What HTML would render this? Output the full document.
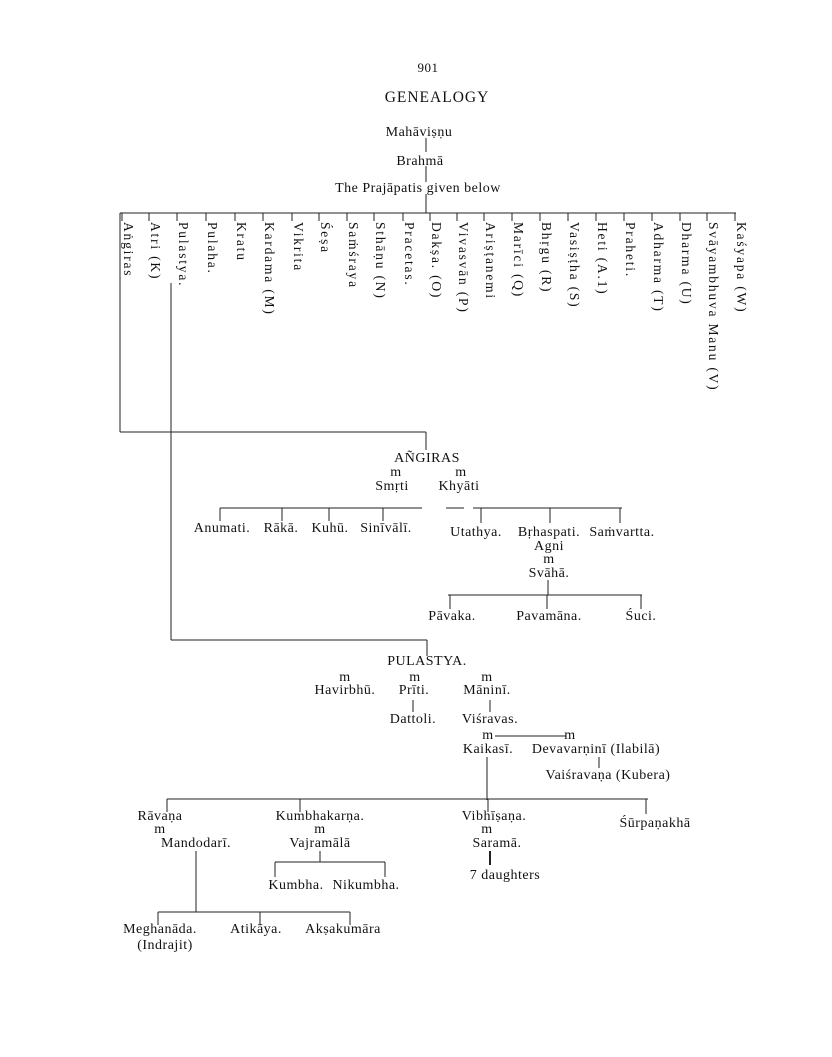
<!DOCTYPE html>
<html><head><meta charset="utf-8"><style>
html,body{margin:0;padding:0;background:#fff;}
svg{display:block}
text{font-family:"Liberation Serif",serif;font-size:14px;letter-spacing:0.5px;fill:#111;}
.c{text-anchor:middle}
.r{font-size:13.5px;letter-spacing:1.8px}
</style></head><body>
<svg width="832" height="1057" viewBox="0 0 832 1057" xmlns="http://www.w3.org/2000/svg">
<g stroke="#222" stroke-width="1" fill="none">
<line x1="426" y1="138" x2="426" y2="152"/>
<line x1="426" y1="166" x2="426" y2="182"/>
<line x1="426" y1="194" x2="426" y2="213"/>
<line x1="120" y1="213" x2="736" y2="213"/>
<line x1="120" y1="213" x2="120" y2="432"/>
<line x1="120" y1="432" x2="426" y2="432"/>
<line x1="426" y1="432" x2="426" y2="450"/>
<line x1="171" y1="283" x2="171" y2="640"/>
<line x1="171" y1="640" x2="427" y2="640"/>
<line x1="427" y1="640" x2="427" y2="656"/>
<line x1="220" y1="508" x2="422" y2="508"/>
<line x1="220" y1="508" x2="220" y2="521"/>
<line x1="282" y1="508" x2="282" y2="521"/>
<line x1="329" y1="508" x2="329" y2="521"/>
<line x1="383" y1="508" x2="383" y2="521"/>
<line x1="446" y1="508" x2="464" y2="508"/>
<line x1="473" y1="508" x2="622" y2="508"/>
<line x1="481" y1="508" x2="481" y2="523"/>
<line x1="550" y1="508" x2="550" y2="523"/>
<line x1="620" y1="508" x2="620" y2="523"/>
<line x1="548" y1="580" x2="548" y2="595"/>
<line x1="448" y1="595" x2="642" y2="595"/>
<line x1="450" y1="595" x2="450" y2="609"/>
<line x1="547" y1="595" x2="547" y2="609"/>
<line x1="641" y1="595" x2="641" y2="609"/>
<line x1="413" y1="700" x2="413" y2="712"/>
<line x1="490" y1="700" x2="490" y2="712"/>
<line x1="495" y1="736" x2="566" y2="736"/>
<line x1="599" y1="757" x2="599" y2="768"/>
<line x1="487" y1="757" x2="487" y2="800"/>
<line x1="167" y1="799" x2="648" y2="799"/>
<line x1="167" y1="799" x2="167" y2="812"/>
<line x1="300" y1="799" x2="300" y2="812"/>
<line x1="488" y1="799" x2="488" y2="812"/>
<line x1="646" y1="799" x2="646" y2="814"/>
<line x1="320" y1="851" x2="320" y2="862"/>
<line x1="275" y1="862" x2="385" y2="862"/>
<line x1="275" y1="862" x2="275" y2="877"/>
<line x1="385" y1="862" x2="385" y2="877"/>
<line x1="490" y1="851" x2="490" y2="865" stroke-width="2"/>
<line x1="196" y1="851" x2="196" y2="912"/>
<line x1="158" y1="912" x2="350" y2="912"/>
<line x1="158" y1="912" x2="158" y2="925"/>
<line x1="260" y1="912" x2="260" y2="925"/>
<line x1="350" y1="912" x2="350" y2="925"/>
<path d="M122 213v8M149 213v8M177 213v8M206 213v8M235 213v8M263 213v8M292 213v8M319 213v8M347 213v8M374 213v8M403 213v8M430 213v8M457 213v8M484 213v8M512 213v8M540 213v8M568 213v8M596 213v8M624 213v8M652 213v8M680 213v8M707 213v8M735 213v8"/>
</g>
<text class="c" x="428" y="72" style="font-size:13px">901</text>
<text class="c" x="437" y="102" style="font-size:15.5px;letter-spacing:1px">GENEALOGY</text>
<text class="c" x="419" y="136">Mahāviṣṇu</text>
<text class="c" x="420" y="165">Brahmā</text>
<text class="c" x="418" y="192">The Prajāpatis given below</text>
<g class="r">
<text class="r" transform="translate(124,222) rotate(90)">Aṅgiras</text>
<text class="r" transform="translate(151,222) rotate(90)">Atri (K)</text>
<text class="r" transform="translate(179,222) rotate(90)">Pulastya.</text>
<text class="r" transform="translate(208,222) rotate(90)">Pulaha.</text>
<text class="r" transform="translate(237,222) rotate(90)">Kratu</text>
<text class="r" transform="translate(265,222) rotate(90)">Kardama (M)</text>
<text class="r" transform="translate(294,222) rotate(90)">Vikrita</text>
<text class="r" transform="translate(321,222) rotate(90)">Śeṣa</text>
<text class="r" transform="translate(349,222) rotate(90)">Saṁśraya</text>
<text class="r" transform="translate(376,222) rotate(90)">Sthāṇu (N)</text>
<text class="r" transform="translate(405,222) rotate(90)">Pracetas.</text>
<text class="r" transform="translate(432,222) rotate(90)">Dakṣa. (O)</text>
<text class="r" transform="translate(459,222) rotate(90)">Vivasvān (P)</text>
<text class="r" transform="translate(486,222) rotate(90)">Ariṣṭanemi</text>
<text class="r" transform="translate(514,222) rotate(90)">Marīci (Q)</text>
<text class="r" transform="translate(542,222) rotate(90)">Bhṛgu (R)</text>
<text class="r" transform="translate(570,222) rotate(90)">Vasiṣṭha (S)</text>
<text class="r" transform="translate(598,222) rotate(90)">Heti (A.1)</text>
<text class="r" transform="translate(626,222) rotate(90)">Praheti.</text>
<text class="r" transform="translate(654,222) rotate(90)">Adharma (T)</text>
<text class="r" transform="translate(682,222) rotate(90)">Dharma (U)</text>
<text class="r" transform="translate(709,222) rotate(90)">Svāyambhuva Manu (V)</text>
<text class="r" transform="translate(737,222) rotate(90)">Kaśyapa (W)</text>
</g>
<text class="c" x="427" y="462">AÑGIRAS</text>
<text class="c" x="396" y="476">m</text>
<text class="c" x="461" y="476">m</text>
<text class="c" x="392" y="490">Smṛti</text>
<text class="c" x="459" y="490">Khyāti</text>
<text class="c" x="222" y="532">Anumati.</text>
<text class="c" x="281" y="532">Rākā.</text>
<text class="c" x="330" y="532">Kuhū.</text>
<text class="c" x="386" y="532">Sinīvālī.</text>
<text class="c" x="476" y="536">Utathya.</text>
<text class="c" x="549" y="536">Bṛhaspati.</text>
<text class="c" x="622" y="536">Saṁvartta.</text>
<text class="c" x="549" y="550">Agni</text>
<text class="c" x="549" y="563">m</text>
<text class="c" x="549" y="577">Svāhā.</text>
<text class="c" x="452" y="620">Pāvaka.</text>
<text class="c" x="549" y="620">Pavamāna.</text>
<text class="c" x="641" y="620">Śuci.</text>
<text class="c" x="427" y="665">PULASTYA.</text>
<text class="c" x="345" y="681">m</text>
<text class="c" x="415" y="681">m</text>
<text class="c" x="487" y="681">m</text>
<text class="c" x="345" y="694">Havirbhū.</text>
<text class="c" x="414" y="694">Prīti.</text>
<text class="c" x="487" y="694">Māninī.</text>
<text class="c" x="413" y="723">Dattoli.</text>
<text class="c" x="490" y="723">Viśravas.</text>
<text class="c" x="488" y="739">m</text>
<text class="c" x="570" y="739">m</text>
<text class="c" x="488" y="753">Kaikasī.</text>
<text class="c" x="596" y="753">Devavarṇinī (Ilabilā)</text>
<text class="c" x="608" y="779">Vaiśravaṇa (Kubera)</text>
<text class="c" x="160" y="820">Rāvaṇa</text>
<text class="c" x="160" y="833">m</text>
<text class="c" x="196" y="847">Mandodarī.</text>
<text class="c" x="320" y="820">Kumbhakarṇa.</text>
<text class="c" x="320" y="833">m</text>
<text class="c" x="320" y="847">Vajramālā</text>
<text class="c" x="296" y="889">Kumbha.</text>
<text class="c" x="366" y="889">Nikumbha.</text>
<text class="c" x="494" y="820">Vibhīṣaṇa.</text>
<text class="c" x="487" y="833">m</text>
<text class="c" x="497" y="847">Saramā.</text>
<text class="c" x="505" y="879">7 daughters</text>
<text class="c" x="655" y="827">Śūrpaṇakhā</text>
<text class="c" x="160" y="933">Meghanāda.</text>
<text class="c" x="165" y="949">(Indrajit)</text>
<text class="c" x="256" y="933">Atikāya.</text>
<text class="c" x="343" y="933">Akṣakumāra</text>
</svg>
</body></html>
